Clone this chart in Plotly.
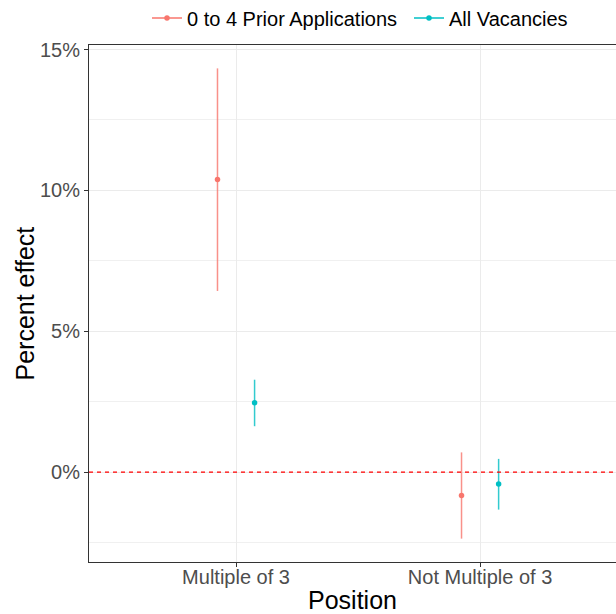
import plotly.graph_objects as go

# Categories on the x axis
positions = ["Multiple of 3", "Not Multiple of 3"]

# Series: point estimates and confidence bounds (percent)
series_names = ["0 to 4 Prior Applications", "All Vacancies"]
series_colors = ["#F8766D", "#00BFC4"]

prior_est = [10.39, -0.83]
prior_low = [6.43, -2.36]
prior_high = [14.33, 0.70]

all_est = [2.46, -0.42]
all_low = [1.63, -1.33]
all_high = [3.28, 0.47]

# Y axis ticks
y_ticks = [0, 5, 10, 15]
y_tick_labels = ["0%", "5%", "10%", "15%"]
y_minor = [-2.5, 2.5, 7.5, 12.5]

FONT = "Liberation Sans, Arial, Helvetica, sans-serif"
dodge = [-0.076, 0.076]

# plot area in pixels
L, T, W, H = 89, 45, 527, 517
# left edge (px) of each legend entry
legend_px = [147, 409]
legend_ids = ["legend", "legend2"]

series = [
    (prior_est, prior_low, prior_high),
    (all_est, all_low, all_high),
]

fig = go.Figure()
base_x = list(range(1, len(positions) + 1))
for i, (est, lo, hi) in enumerate(series):
    xs = [b + dodge[i] for b in base_x]
    # interval segments (low -> high), separated by gaps
    seg_x, seg_y = [], []
    for x, l, h in zip(xs, lo, hi):
        seg_x += [x, x, None]
        seg_y += [l, h, None]
    fig.add_trace(go.Scatter(
        x=seg_x, y=seg_y, mode="lines", opacity=0.8,
        line=dict(color=series_colors[i], width=1.5),
        showlegend=False, hoverinfo="skip",
    ))
    # point estimates
    fig.add_trace(go.Scatter(
        x=xs, y=est, mode="markers",
        marker=dict(color=series_colors[i], size=5.5),
        showlegend=False, hoverinfo="skip",
    ))
    # legend key: point on a short segment
    fig.add_trace(go.Scatter(
        x=[None], y=[None], mode="lines+markers", name=series_names[i],
        marker=dict(color=series_colors[i], size=5.5),
        line=dict(color=series_colors[i], width=1.5),
        legend=legend_ids[i],
    ))

# dashed reference line at zero
fig.add_shape(type="line", xref="paper", x0=0, x1=1, yref="y", y0=0, y1=0,
              line=dict(color="#FF0000", width=1.2, dash="4px,4px"), layer="above")

# y axis title
fig.add_annotation(text="Percent effect", textangle=-90,
                   xref="paper", x=(24 - L) / W, xanchor="center",
                   yref="paper", y=0.5, yanchor="middle", showarrow=False,
                   font=dict(size=25, color="black", family=FONT))

legend_style = dict(orientation="h", xanchor="left", y=1 + 27 / H, yanchor="middle",
                    font=dict(size=20, color="black"),
                    bgcolor="rgba(0,0,0,0)", borderwidth=0)

fig.update_layout(
    width=616, height=614,
    margin=dict(l=L, r=616 - L - W, t=T, b=614 - T - H, autoexpand=False),
    paper_bgcolor="white", plot_bgcolor="white",
    font=dict(family=FONT, color="black"),
    legend=dict(x=(legend_px[0] - L) / W, **legend_style),
    legend2=dict(x=(legend_px[1] - L) / W, **legend_style),
    xaxis=dict(
        range=[0.3975, 2.557], tickvals=base_x, ticktext=positions,
        showgrid=True, gridcolor="#EBEBEB", gridwidth=1, zeroline=False,
        showline=True, linecolor="#333333", linewidth=1, mirror=True,
        ticks="outside", ticklen=4, tickcolor="#333333", tickwidth=1,
        ticklabelstandoff=-7,
        tickfont=dict(size=20, color="#4D4D4D", family=FONT),
        title=dict(text="Position", font=dict(size=25, color="black", family=FONT), standoff=6),
    ),
    yaxis=dict(
        range=[-3.19, 15.16], tickvals=y_ticks, ticktext=y_tick_labels,
        showgrid=True, gridcolor="#EBEBEB", gridwidth=1, zeroline=False,
        showline=True, linecolor="#333333", linewidth=1,
        ticks="outside", ticklen=4, tickcolor="#333333", tickwidth=1,
        tickfont=dict(size=20, color="#4D4D4D", family=FONT),
        minor=dict(tickvals=y_minor, showgrid=True, gridcolor="#F0F0F0", gridwidth=1, ticks=""),
    ),
)

fig.write_html("out.html")
